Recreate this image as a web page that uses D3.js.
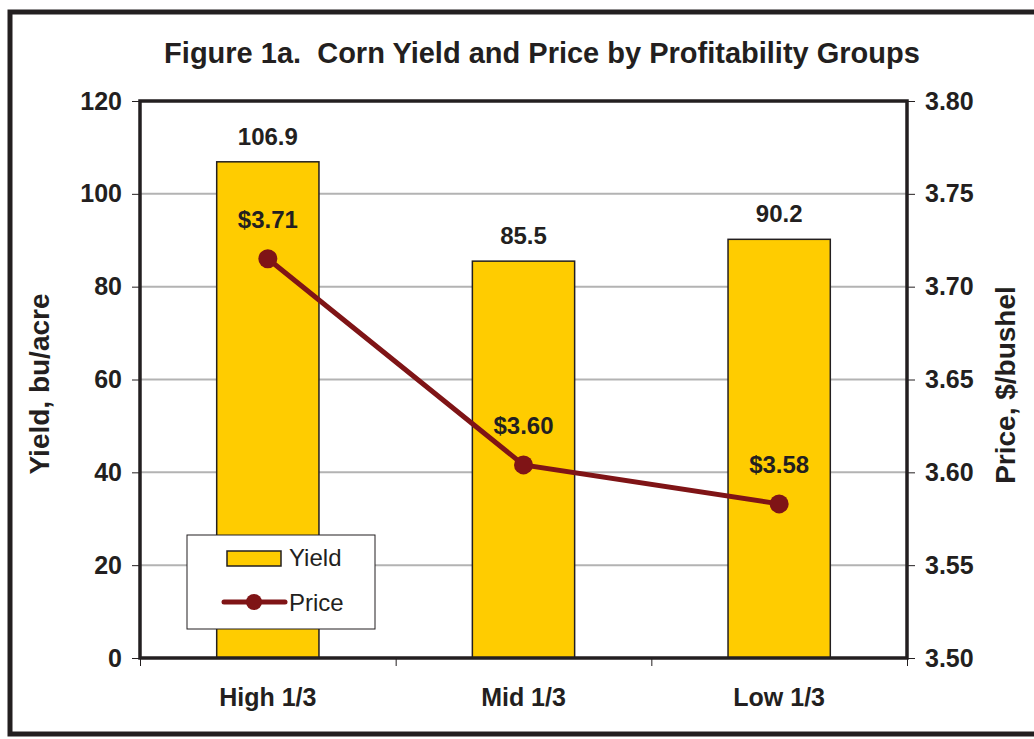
<!DOCTYPE html>
<html>
<head>
<meta charset="utf-8">
<script src="https://cdn.jsdelivr.net/npm/d3@7"></script>
<style>
  body { margin: 0; background: #fff; }
  svg { display: block; font-family: "Liberation Sans", Arial, sans-serif; }
</style>
</head>
<body>
<script>
// Data
const groups = ["High 1/3", "Mid 1/3", "Low 1/3"];
const yieldValues = [106.9, 85.5, 90.2];
const priceValues = [3.715, 3.604, 3.583];
const priceLabels = ["$3.71", "$3.60", "$3.58"];
const yieldTicks = [0, 20, 40, 60, 80, 100, 120];
const priceTicks = [3.50, 3.55, 3.60, 3.65, 3.70, 3.75, 3.80];

const width = 1034, height = 739;
const margin = { top: 101, right: 127, bottom: 81, left: 140 };
const innerW = width - margin.left - margin.right;
const innerH = height - margin.top - margin.bottom;

const barColor = "#ffcc00";
const lineColor = "#7f1416";
const ink = "#231f20";

const svg = d3.select("body").append("svg")
    .attr("width", width)
    .attr("height", height);

// outer frame
svg.append("rect")
    .attr("x", 10).attr("y", 12)
    .attr("width", 1040).attr("height", 722)
    .attr("fill", "none")
    .attr("stroke", ink)
    .attr("stroke-width", 5);

svg.append("text")
    .attr("x", 542).attr("y", 63)
    .attr("text-anchor", "middle")
    .attr("font-size", 29).attr("font-weight", "bold")
    .attr("fill", ink)
    .attr("xml:space", "preserve")
    .text("Figure 1a.  Corn Yield and Price by Profitability Groups");

const g = svg.append("g")
    .attr("transform", `translate(${margin.left},${margin.top})`);

const x = d3.scaleBand().domain(groups).range([0, innerW]).paddingInner(0.6).paddingOuter(0.3);
const xEdges = d3.scaleLinear().domain([0, groups.length]).range([0, innerW]);
const y = d3.scaleLinear().domain([0, 120]).range([innerH, 0]);
const yR = d3.scaleLinear().domain([3.5, 3.8]).range([innerH, 0]);

// gridlines
g.append("g").selectAll("line")
    .data(yieldTicks.slice(1, -1))
    .join("line")
    .attr("x1", 0).attr("x2", innerW)
    .attr("y1", d => y(d)).attr("y2", d => y(d))
    .attr("stroke", "#b3b3b3")
    .attr("stroke-width", 2);

// bars
g.append("g").selectAll("rect")
    .data(yieldValues)
    .join("rect")
    .attr("x", (d, i) => x(groups[i]))
    .attr("y", d => y(d))
    .attr("width", x.bandwidth())
    .attr("height", d => innerH - y(d))
    .attr("fill", barColor)
    .attr("stroke", ink)
    .attr("stroke-width", 1.5);

// bar labels
g.append("g").selectAll("text")
    .data(yieldValues)
    .join("text")
    .attr("x", (d, i) => x(groups[i]) + x.bandwidth() / 2)
    .attr("y", d => y(d) - 17)
    .attr("text-anchor", "middle")
    .attr("font-size", 24).attr("font-weight", "bold")
    .attr("fill", ink)
    .text(d => d.toFixed(1));

// axes
const leftAxis = g.append("g")
    .call(d3.axisLeft(y).tickValues(yieldTicks).tickSize(8).tickPadding(10).tickFormat(d3.format("d")));
const rightAxis = g.append("g")
    .attr("transform", `translate(${innerW},0)`)
    .call(d3.axisRight(yR).tickValues(priceTicks).tickSize(8).tickPadding(10).tickFormat(d3.format(".2f")));
const bottomAxis = g.append("g")
    .attr("transform", `translate(0,${innerH})`)
    .call(d3.axisBottom(xEdges).tickValues([0, 1, 2, 3]).tickSize(8).tickFormat(""));

[leftAxis, rightAxis, bottomAxis].forEach(a => {
    a.select(".domain").remove();
    a.selectAll(".tick line").attr("stroke", ink).attr("stroke-width", 1);
    a.selectAll(".tick text")
        .attr("font-size", 25).attr("font-weight", "bold")
        .attr("fill", ink)
        .attr("font-family", "Liberation Sans, Arial, sans-serif");
});

// category labels
g.append("g").selectAll("text")
    .data(groups)
    .join("text")
    .attr("x", d => x(d) + x.bandwidth() / 2)
    .attr("y", innerH + 48)
    .attr("text-anchor", "middle")
    .attr("font-size", 25).attr("font-weight", "bold")
    .attr("fill", ink)
    .text(d => d);

// plot border
g.append("rect")
    .attr("x", 0).attr("y", 0)
    .attr("width", innerW).attr("height", innerH)
    .attr("fill", "none")
    .attr("stroke", ink)
    .attr("stroke-width", 3.5);

// price line
const line = d3.line()
    .x((d, i) => x(groups[i]) + x.bandwidth() / 2)
    .y(d => yR(d));

g.append("path")
    .datum(priceValues)
    .attr("d", line)
    .attr("fill", "none")
    .attr("stroke", lineColor)
    .attr("stroke-width", 5);

g.append("g").selectAll("circle")
    .data(priceValues)
    .join("circle")
    .attr("cx", (d, i) => x(groups[i]) + x.bandwidth() / 2)
    .attr("cy", d => yR(d))
    .attr("r", 9.5)
    .attr("fill", lineColor);

g.append("g").selectAll("text")
    .data(priceValues)
    .join("text")
    .attr("x", (d, i) => x(groups[i]) + x.bandwidth() / 2)
    .attr("y", d => yR(d) - 31)
    .attr("text-anchor", "middle")
    .attr("font-size", 24).attr("font-weight", "bold")
    .attr("fill", ink)
    .text((d, i) => priceLabels[i]);

// axis titles
svg.append("text")
    .attr("transform", "translate(49,384) rotate(-90)")
    .attr("text-anchor", "middle")
    .attr("font-size", 28).attr("font-weight", "bold")
    .attr("fill", ink)
    .text("Yield, bu/acre");

svg.append("text")
    .attr("transform", "translate(1015,385) rotate(-90)")
    .attr("text-anchor", "middle")
    .attr("font-size", 28).attr("font-weight", "bold")
    .attr("fill", ink)
    .text("Price, $/bushel");

// legend
const legend = svg.append("g").attr("transform", "translate(187,535)");
legend.append("rect")
    .attr("width", 188).attr("height", 94)
    .attr("fill", "#fff")
    .attr("stroke", ink).attr("stroke-width", 1);
legend.append("rect")
    .attr("x", 40).attr("y", 16).attr("width", 54).attr("height", 15)
    .attr("fill", barColor).attr("stroke", ink).attr("stroke-width", 1.5);
legend.append("text")
    .attr("x", 102).attr("y", 31)
    .attr("font-size", 24).attr("fill", ink)
    .text("Yield");
legend.append("line")
    .attr("x1", 37).attr("x2", 98).attr("y1", 67).attr("y2", 67)
    .attr("stroke", lineColor).attr("stroke-width", 5).attr("stroke-linecap", "round");
legend.append("circle")
    .attr("cx", 67).attr("cy", 67).attr("r", 8)
    .attr("fill", lineColor);
legend.append("text")
    .attr("x", 102).attr("y", 76)
    .attr("font-size", 24).attr("fill", ink)
    .text("Price");
</script>
</body>
</html>
